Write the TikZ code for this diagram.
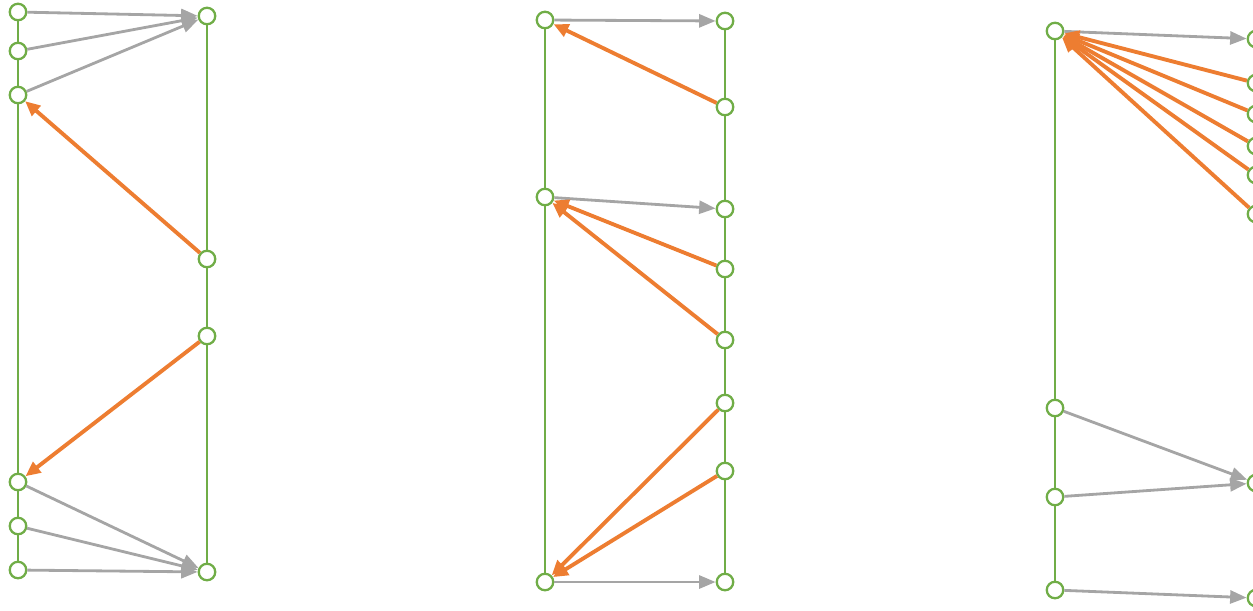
\documentclass[tikz,border=0pt]{standalone}
\usepackage{tikz}
\usetikzlibrary{arrows.meta}
\definecolor{railgreen}{RGB}{112, 173, 71}
\definecolor{fwdgray}{RGB}{165, 165, 165}
\definecolor{backorange}{RGB}{237, 125, 49}

\begin{document}
\begin{tikzpicture}[x=0.02cm, y=-0.02cm,
    pt/.style={circle, draw=railgreen, line width=1.3pt, fill=white, minimum size=0.33cm, inner sep=0pt},
    rail/.style={railgreen, line width=1.3pt},
    fwd/.style={fwdgray, line width=1.6pt, -{Triangle[length=0.33cm, width=0.26cm]}},
    back/.style={backorange, line width=2.2pt, -{Triangle[length=0.3cm, width=0.26cm]}}]
    \useasboundingbox (0,0) rectangle (1253,610);
    % first panel
    \foreach \y [count=\i] in {12,51,95,482,526,570}
        \node[pt] (la\i) at (18,\y) {};
    \foreach \y [count=\i] in {16,259,336,572}
        \node[pt] (ra\i) at (207,\y) {};
    \foreach \i/\j in {1/2,2/3,3/4,4/5,5/6}
        \draw[rail] (la\i) -- (la\j);
    \foreach \i/\j in {1/2,2/3,3/4}
        \draw[rail] (ra\i) -- (ra\j);
    \foreach \i/\j in {1/1,2/1,3/1,4/4,5/4,6/4}
        \draw[fwd] (la\i) -- (ra\j);
    \draw[back] (ra2) -- (la3);
    \draw[back] (ra3) -- (la4);
    % second panel
    \foreach \y [count=\i] in {20,197,582}
        \node[pt] (lb\i) at (545,\y) {};
    \foreach \y [count=\i] in {21,107,209,269,340,403,471,582}
        \node[pt] (rb\i) at (725,\y) {};
    \foreach \i/\j in {1/2,2/3}
        \draw[rail] (lb\i) -- (lb\j);
    \foreach \i/\j in {1/2,2/3,3/4,4/5,5/6,6/7,7/8}
        \draw[rail] (rb\i) -- (rb\j);
    \foreach \i/\j in {1/1,2/3,3/8}
        \draw[fwd] (lb\i) -- (rb\j);
    \foreach \j/\i in {2/1,4/2,5/2,6/3,7/3}
        \draw[back] (rb\j) -- (lb\i);
    % third panel
    \foreach \y [count=\i] in {31,408,497,590}
        \node[pt] (lc\i) at (1055,\y) {};
    \foreach \y [count=\i] in {39,83,114,146,175,214,483,598}
        \node[pt] (rc\i) at (1256,\y) {};
    \foreach \i/\j in {1/2,2/3,3/4}
        \draw[rail] (lc\i) -- (lc\j);
    \foreach \i/\j in {1/2,2/3,3/4,4/5,5/6,6/7,7/8}
        \draw[rail] (rc\i) -- (rc\j);
    \foreach \i/\j in {1/1,2/7,3/7,4/8}
        \draw[fwd] (lc\i) -- (rc\j);
    \foreach \j in {2,3,4,5,6}
        \draw[back] (rc\j) -- (lc1);
\end{tikzpicture}
\end{document}
